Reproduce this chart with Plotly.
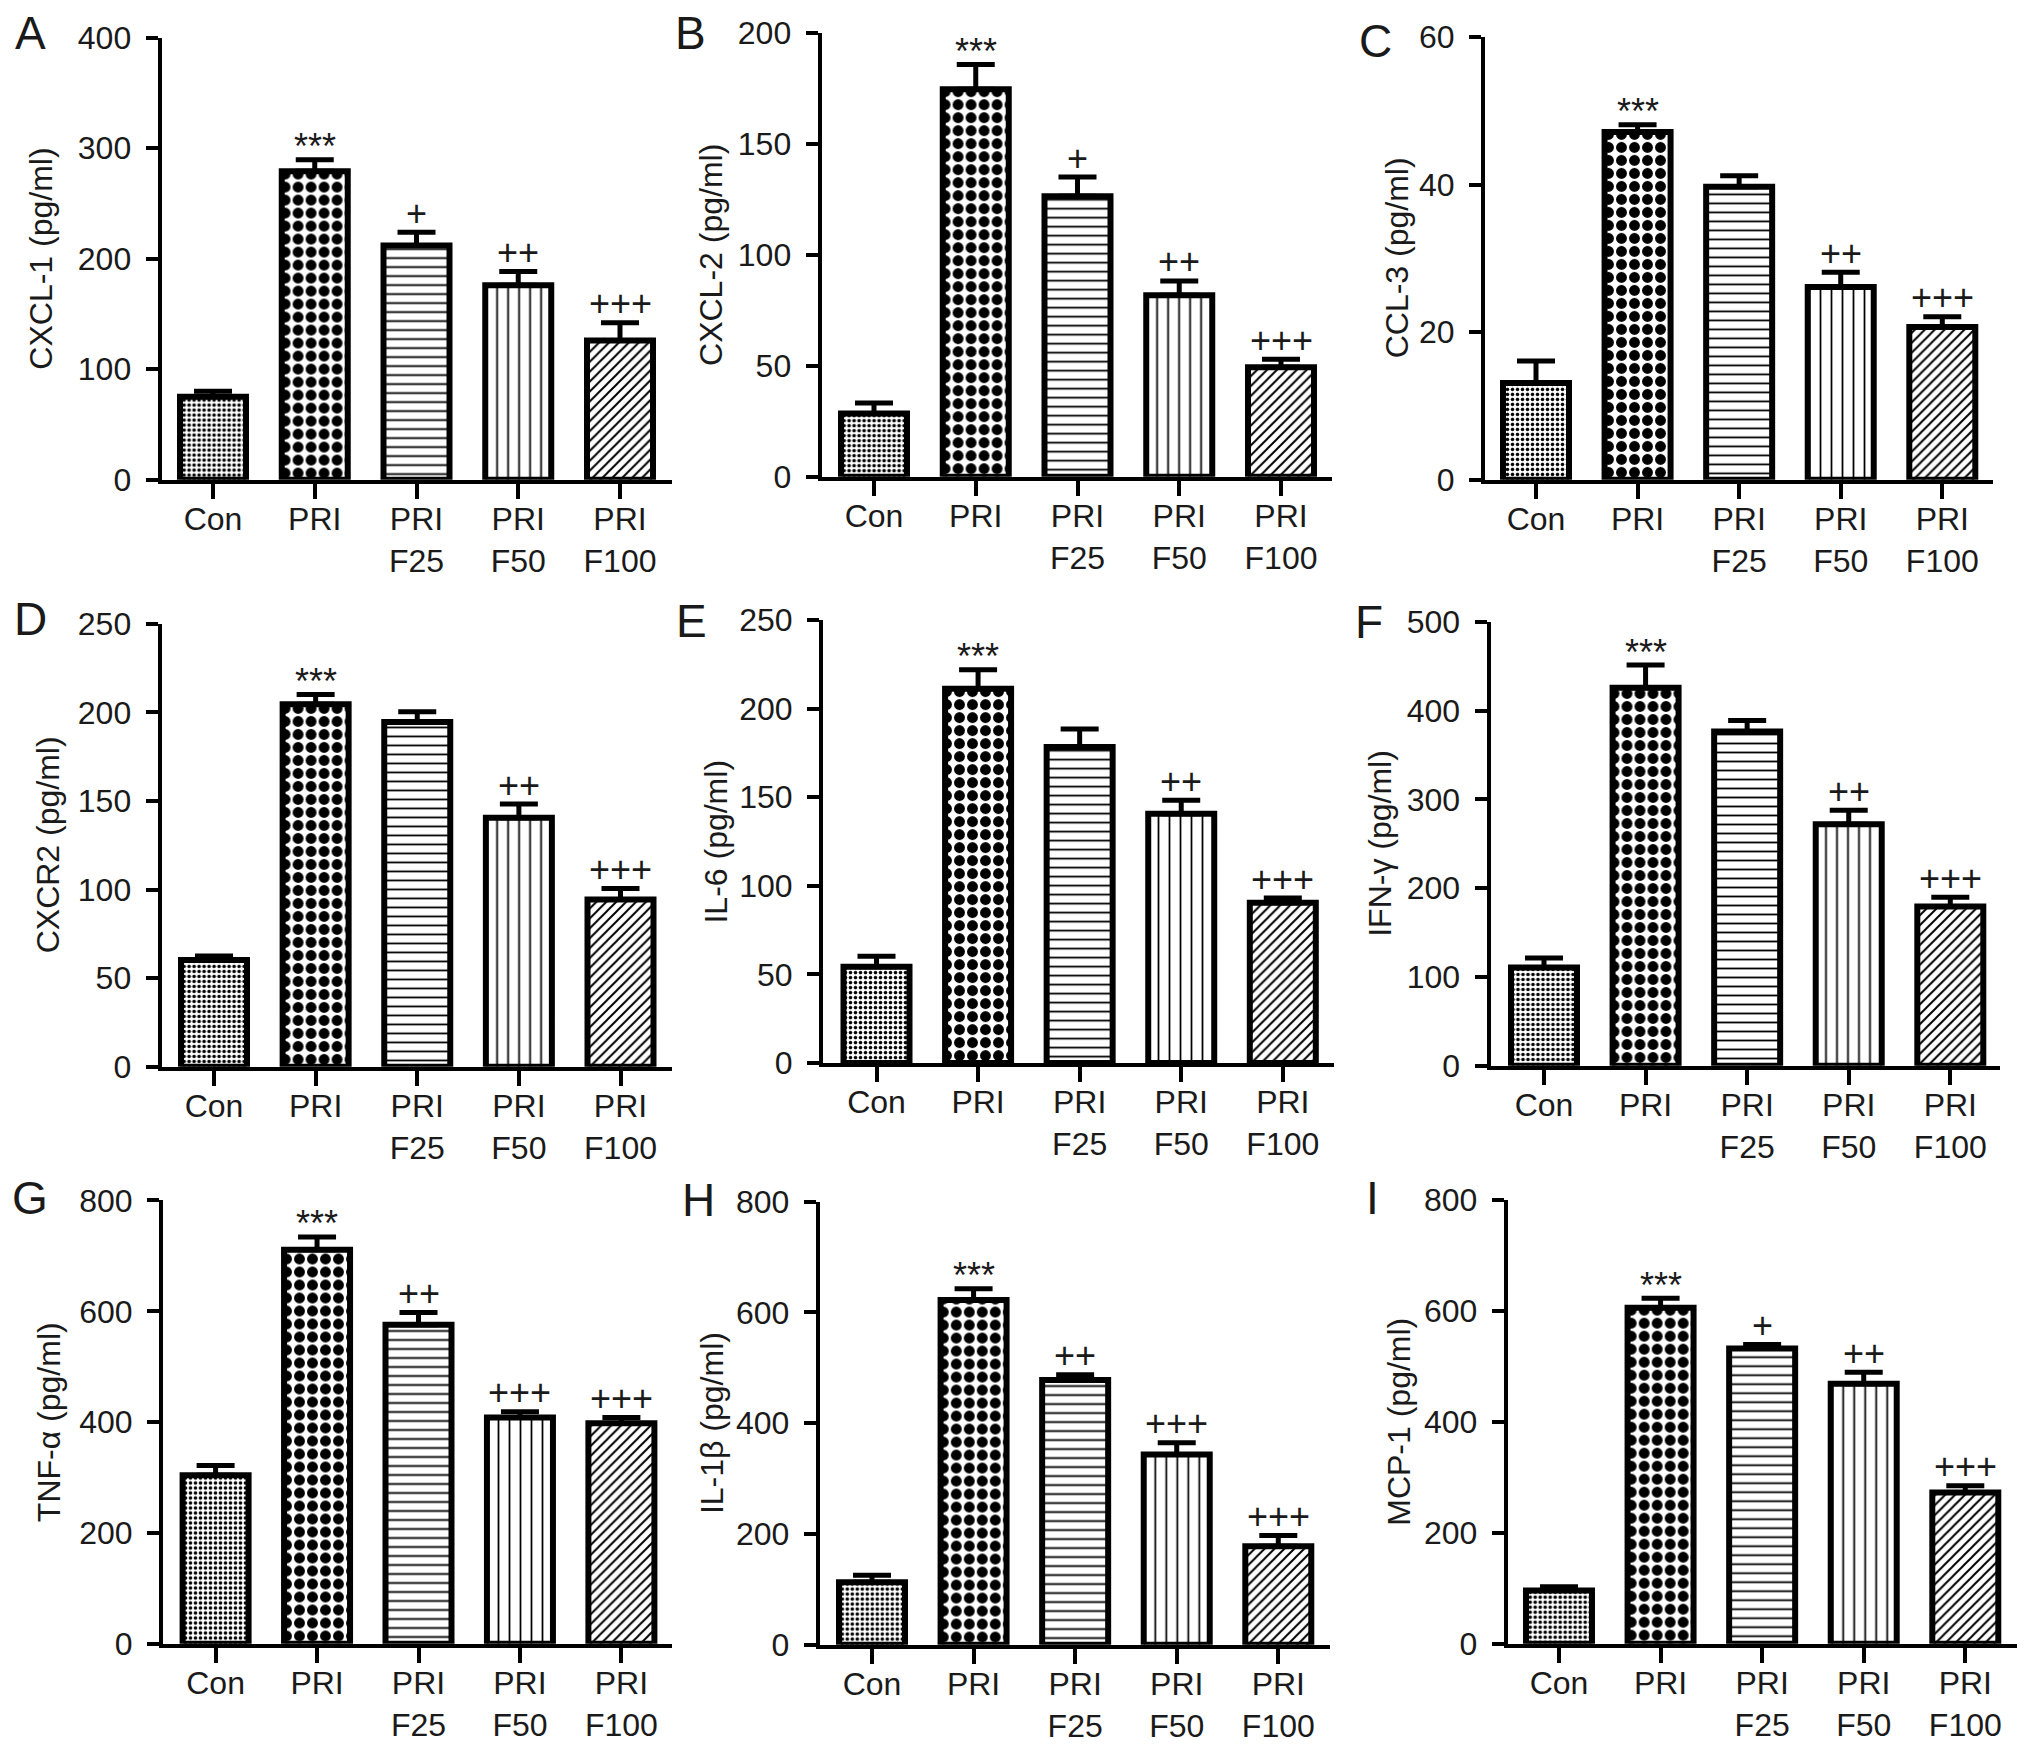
import plotly.graph_objects as go

# ---------------- data ----------------
categories = ["Con", "PRI", "PRI<br>F25", "PRI<br>F50", "PRI<br>F100"]

cxcl1_mean = [75, 279, 212, 176, 126]
cxcl1_sem = [5, 10.5, 12, 12.5, 16]
cxcl1_sig = ["", "***", "+", "++", "+++"]
cxcl1_ticks = [0, 100, 200, 300, 400]

cxcl2_mean = [28.5, 174.7, 126.5, 81.8, 49.4]
cxcl2_sem = [4.8, 11.2, 8.6, 6.5, 3.6]
cxcl2_sig = ["", "***", "+", "++", "+++"]
cxcl2_ticks = [0, 50, 100, 150, 200]

ccl3_mean = [13.1, 47.1, 39.7, 26.1, 20.7]
ccl3_sem = [3.0, 1.0, 1.5, 2.0, 1.4]
ccl3_sig = ["", "***", "", "++", "+++"]
ccl3_ticks = [0, 20, 40, 60]

cxcr2_mean = [60.3, 204.7, 194.6, 140.5, 94.4]
cxcr2_sem = [2.2, 5.4, 5.8, 7.8, 6.2]
cxcr2_sig = ["", "***", "", "++", "+++"]
cxcr2_ticks = [0, 50, 100, 150, 200, 250]

il6_mean = [54.3, 211.2, 178.4, 140.7, 90.5]
il6_sem = [6.0, 10.8, 10.2, 7.6, 2.6]
il6_sig = ["", "***", "", "++", "+++"]
il6_ticks = [0, 50, 100, 150, 200, 250]

ifng_mean = [110.6, 426, 376.5, 272, 179.4]
ifng_sem = [10.7, 25.4, 12.5, 15.9, 10.4]
ifng_sig = ["", "***", "", "++", "+++"]
ifng_ticks = [0, 100, 200, 300, 400, 500]

tnfa_mean = [304, 711, 575.8, 408.5, 398.2]
tnfa_sem = [17.7, 23.3, 21.9, 10.2, 10.3]
tnfa_sig = ["", "***", "++", "+++", "+++"]
tnfa_ticks = [0, 200, 400, 600, 800]

il1b_mean = [112.8, 622.2, 478, 343.2, 177.8]
il1b_sem = [12.3, 20.5, 9.5, 21.2, 19.1]
il1b_sig = ["", "***", "++", "+++", "+++"]
il1b_ticks = [0, 200, 400, 600, 800]

mcp1_mean = [96, 605.5, 531.9, 468.5, 272.8]
mcp1_sem = [7, 17.1, 7.5, 20.5, 12.2]
mcp1_sig = ["", "***", "+", "++", "+++"]
mcp1_ticks = [0, 200, 400, 600, 800]

panel_letters = ["A", "B", "C", "D", "E", "F", "G", "H", "I"]
y_titles = ["CXCL-1 (pg/ml)", "CXCL-2 (pg/ml)", "CCL-3 (pg/ml)",
            "CXCR2 (pg/ml)", "IL-6 (pg/ml)", "IFN-γ (pg/ml)",
            "TNF-α (pg/ml)", "IL-1β (pg/ml)", "MCP-1 (pg/ml)"]

panels = [
    (cxcl1_mean, cxcl1_sem, cxcl1_sig, cxcl1_ticks),
    (cxcl2_mean, cxcl2_sem, cxcl2_sig, cxcl2_ticks),
    (ccl3_mean, ccl3_sem, ccl3_sig, ccl3_ticks),
    (cxcr2_mean, cxcr2_sem, cxcr2_sig, cxcr2_ticks),
    (il6_mean, il6_sem, il6_sig, il6_ticks),
    (ifng_mean, ifng_sem, ifng_sig, ifng_ticks),
    (tnfa_mean, tnfa_sem, tnfa_sig, tnfa_ticks),
    (il1b_mean, il1b_sem, il1b_sig, il1b_ticks),
    (mcp1_mean, mcp1_sem, mcp1_sig, mcp1_ticks),
]

# ---------------- layout geometry (pixels in a 2032x1745 page) ----------------
W, H = 2032, 1745
# (axis left, axis right, first bar centre, last bar centre, axis top, axis zero)
geom = [
    (161.6, 672.0, 213.0, 620.0, 20.0, 471.5),
    (821.6, 1332.0, 874.0, 1281.0, 15.5, 468.4),
    (1485.0, 1992.7, 1536.0, 1942.3, 19.3, 471.5),
    (161.6, 672.0, 214.0, 620.5, 618.7, 1070.8),
    (823.0, 1334.0, 876.5, 1282.8, 614.8, 1067.0),
    (1490.5, 1999.6, 1544.0, 1950.3, 616.7, 1069.7),
    (163.0, 672.0, 215.6, 621.4, 1207.4, 1660.1),
    (819.8, 1329.6, 872.0, 1278.3, 1208.5, 1660.9),
    (1507.7, 2016.6, 1559.0, 1965.3, 1206.6, 1660.1),
]
title_x = [41, 711, 1397, 48, 716, 1380, 49, 712, 1399]
letter_pos = [(30, 15), (690, 15), (1375, 23), (30, 614), (691, 616),
              (1369, 617), (30, 1205), (698, 1207), (1372, 1205)]

FONT = "Liberation Sans, Arial, Helvetica, sans-serif"
shapes_pat = [".", ".", "-", "|", "/"]
sizes_pat = [5, 13, 9, 11, 7]
solid_pat = [0.4, 0.55, 0.2, 0.16, 0.28]

fig = go.Figure()
annotations = []

for k, (mean, sem, sig, ticks) in enumerate(panels):
    n = k + 1
    xa = "x" if n == 1 else f"x{n}"
    ya = "y" if n == 1 else f"y{n}"
    xl, xr, c0, c4, yt, yz = geom[k]
    sp = (c4 - c0) / 4.0
    xrange = [(xl - c0) / sp, 4 + (xr - c4) / sp]

    fig.add_trace(go.Bar(
        x=categories, y=mean, xaxis=xa, yaxis=ya,
        width=66.0 / sp,
        marker=dict(
            color="white",
            line=dict(color="black", width=6),
            pattern=dict(shape=shapes_pat, size=sizes_pat, solidity=solid_pat,
                         fgcolor="black", bgcolor="white", fillmode="replace"),
        ),
        error_y=dict(type="data", symmetric=False, array=sem,
                     arrayminus=[0] * len(sem), color="black",
                     thickness=5, width=19),
        showlegend=False, hoverinfo="skip",
    ))

    axx = dict(
        domain=[xl / W, xr / W], range=xrange, anchor=ya,
        type="category", showline=True, linecolor="black", linewidth=4,
        ticks="outside", ticklen=15, tickwidth=4, tickcolor="black",
        ticklabelstandoff=-7,
        tickfont=dict(family=FONT, size=32, color="#1a1a1a"),
        showgrid=False, zeroline=False, fixedrange=True,
    )
    axy = dict(
        domain=[1 - yz / H, 1 - yt / H], range=[0, ticks[-1]], anchor=xa,
        tickvals=ticks, showline=True, linecolor="black", linewidth=4,
        ticks="outside", ticklen=12, tickwidth=4, tickcolor="black",
        ticklabelstandoff=8,
        tickfont=dict(family=FONT, size=32, color="#1a1a1a"),
        showgrid=False, zeroline=False, fixedrange=True,
    )
    fig.update_layout(**{("xaxis" if n == 1 else f"xaxis{n}"): axx,
                         ("yaxis" if n == 1 else f"yaxis{n}"): axy})

    # significance marks above the error bars
    for cat, m, s, lab in zip(categories, mean, sem, sig):
        if lab:
            annotations.append(dict(
                x=cat, y=m + s, xref=xa, yref=ya, text=lab, showarrow=False,
                xanchor="center", yanchor="middle",
                yshift=13 if lab.startswith("*") else 19,
                font=dict(family=FONT, size=36, color="#1a1a1a"),
            ))

    # y-axis title
    annotations.append(dict(
        x=title_x[k] / W, y=1 - (yt + yz) / 2 / H, xref="paper", yref="paper",
        text=y_titles[k], textangle=-90, showarrow=False,
        xanchor="center", yanchor="middle",
        font=dict(family=FONT, size=32, color="#1a1a1a"),
    ))
    # panel letter
    lx, ly = letter_pos[k]
    annotations.append(dict(
        x=lx / W, y=1 - ly / H, xref="paper", yref="paper",
        text=panel_letters[k], showarrow=False,
        xanchor="center", yanchor="middle",
        font=dict(family=FONT, size=46, color="#1a1a1a"),
    ))

fig.update_layout(
    width=W, height=H,
    margin=dict(l=0, r=0, t=0, b=0),
    paper_bgcolor="white", plot_bgcolor="white",
    showlegend=False,
    annotations=annotations,
)

fig.write_html("out.html", config={"displayModeBar": False},
               post_script="document.body.style.margin='0';")
